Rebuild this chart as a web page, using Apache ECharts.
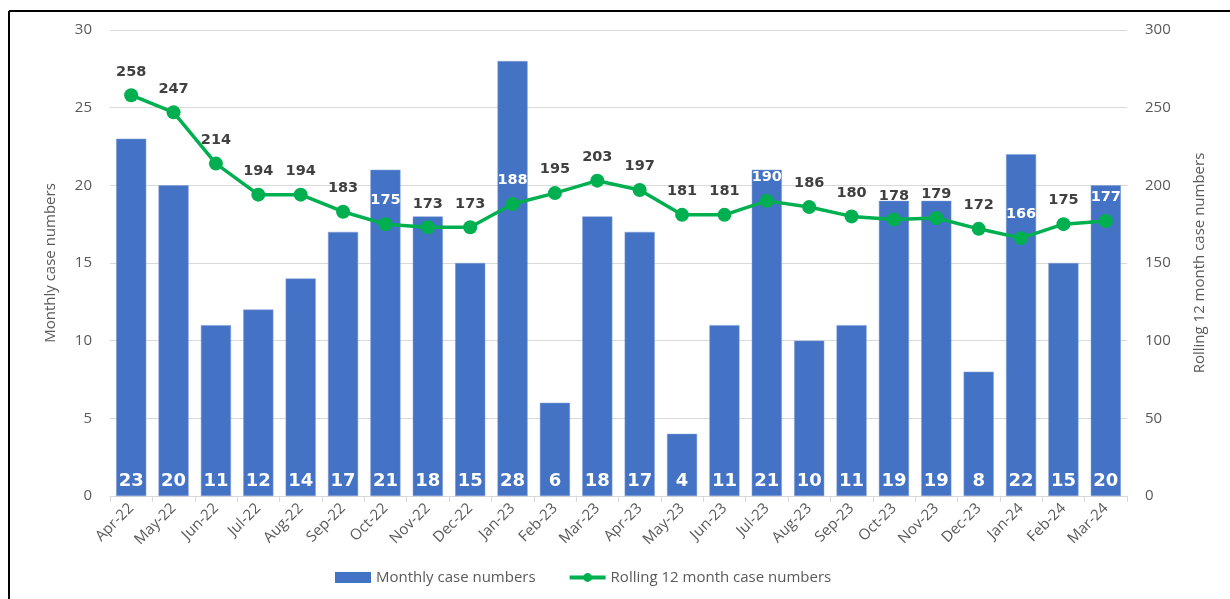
<!DOCTYPE html>
<html>
<head>
<meta charset="utf-8">
<script src="https://cdn.jsdelivr.net/npm/echarts@6/dist/echarts.min.js"></script>
<style>
  html, body { margin: 0; padding: 0; background: #fff; }
  #chart { width: 1230px; height: 599px; }
</style>
</head>
<body>
<div id="chart"></div>
<script>
// Months shown on the category axis
const months = ['Apr-22','May-22','Jun-22','Jul-22','Aug-22','Sep-22','Oct-22','Nov-22','Dec-22',
  'Jan-23','Feb-23','Mar-23','Apr-23','May-23','Jun-23','Jul-23','Aug-23','Sep-23','Oct-23',
  'Nov-23','Dec-23','Jan-24','Feb-24','Mar-24'];
// Cases recorded in each month
const monthlyCases = [23,20,11,12,14,17,21,18,15,28,6,18,17,4,11,21,10,11,19,19,8,22,15,20];
// Rolling 12 month totals
const rollingCases = [258,247,214,194,194,183,175,173,173,188,195,203,197,181,181,190,186,180,178,179,172,166,175,177];
// Rolling totals whose labels sit on top of a bar (drawn in white)
const whiteLabelMonths = ['Oct-22','Jan-23','Jul-23','Jan-24','Mar-24'];

const seriesNames = ['Monthly case numbers', 'Rolling 12 month case numbers'];

const axisLabelStyle = { color: '#595959', fontSize: 15, fontFamily: 'Open Sans' };
const dataLabelFont = { fontFamily: 'DejaVu Sans', fontWeight: 'bold', fontSize: 14.5 };

const chart = echarts.init(document.getElementById('chart'));
chart.setOption({
  animation: false,
  backgroundColor: '#fff',
  graphic: [
    { type: 'line', shape: { x1: 9, y1: 11, x2: 1230, y2: 11 }, style: { stroke: '#000', lineWidth: 2 } },
    { type: 'line', shape: { x1: 9, y1: 11, x2: 9, y2: 599 }, style: { stroke: '#000', lineWidth: 2 } }
  ],
  grid: { left: 110, right: 103, top: 30, bottom: 103 },
  legend: {
    bottom: 9,
    left: 330,
    itemGap: 32,
    itemWidth: 36,
    itemHeight: 11,
    textStyle: { color: '#595959', fontSize: 15, fontFamily: 'Open Sans' },
    data: [
      { name: seriesNames[0], icon: 'rect', itemStyle: { borderWidth: 0 } },
      { name: seriesNames[1], lineStyle: { width: 4 } }
    ]
  },
  xAxis: {
    type: 'category',
    data: months,
    axisLine: { lineStyle: { color: '#d9d9d9' } },
    axisTick: { show: true, alignWithLabel: false, length: 6, lineStyle: { color: '#d9d9d9' } },
    axisLabel: Object.assign({ rotate: 45, margin: 10, interval: 0 }, axisLabelStyle)
  },
  yAxis: [
    {
      type: 'value', min: 0, max: 30, interval: 5,
      name: 'Monthly case numbers', nameLocation: 'middle', nameGap: 52,
      nameTextStyle: { color: '#595959', fontSize: 15, fontFamily: 'Open Sans' },
      axisLabel: Object.assign({ margin: 18 }, axisLabelStyle),
      axisLine: { show: false }, axisTick: { show: false },
      splitLine: { lineStyle: { color: '#d9d9d9', width: 1 } }
    },
    {
      type: 'value', min: 0, max: 300, interval: 50,
      name: 'Rolling 12 month case numbers', nameLocation: 'middle', nameGap: 65, nameRotate: 90,
      nameTextStyle: { color: '#595959', fontSize: 15, fontFamily: 'Open Sans' },
      axisLabel: Object.assign({ margin: 18 }, axisLabelStyle),
      axisLine: { show: false }, axisTick: { show: false },
      splitLine: { show: false }
    }
  ],
  series: [
    {
      name: seriesNames[0],
      type: 'bar',
      yAxisIndex: 0,
      data: monthlyCases,
      barCategoryGap: '29%',
      itemStyle: { color: '#4472C4', borderColor: '#7f9fd8', borderWidth: 0.5 },
      label: {
        show: true, position: 'insideBottom', distance: 6, color: '#fff', fontSize: 18,
        fontFamily: 'DejaVu Sans', fontWeight: 'bold'
      },
      z: 2
    },
    {
      name: seriesNames[1],
      type: 'line',
      yAxisIndex: 1,
      data: rollingCases.map((v, i) => ({
        value: v,
        label: { color: whiteLabelMonths.includes(months[i]) ? '#ffffff' : '#404040' }
      })),
      symbol: 'circle',
      symbolSize: 14,
      lineStyle: { color: '#00B050', width: 3.5 },
      itemStyle: { color: '#00B050' },
      label: Object.assign({ show: true, position: 'top', distance: 9 }, dataLabelFont),
      z: 3
    }
  ]
});
</script>
</body>
</html>
